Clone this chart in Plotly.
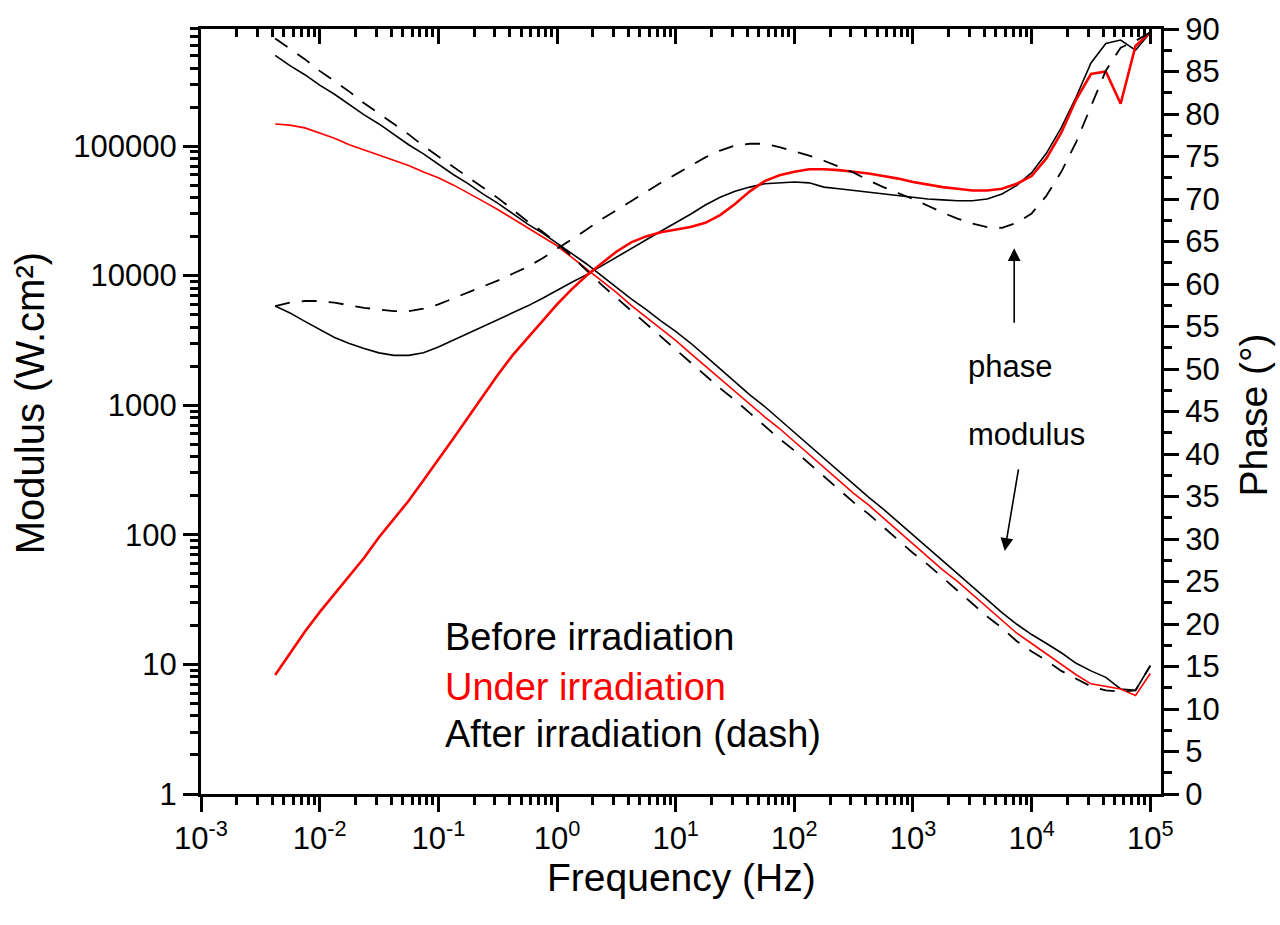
import plotly.graph_objects as go

# Frequency grid (Hz), 8 points per decade
freq = [0.004217, 0.005623, 0.007499,
        0.01, 0.01334, 0.01778, 0.02371, 0.03162, 0.04217, 0.05623, 0.07499,
        0.1, 0.1334, 0.1778, 0.2371, 0.3162, 0.4217, 0.5623, 0.7499,
        1, 1.334, 1.778, 2.371, 3.162, 4.217, 5.623, 7.499,
        10, 13.34, 17.78, 23.71, 31.62, 42.17, 56.23, 74.99,
        100, 133.4, 177.8, 237.1, 316.2, 421.7, 562.3, 749.9,
        1000, 1334, 1778, 2371, 3162, 4217, 5623, 7499,
        10000, 13340, 17780, 23710, 31620, 42170, 56230, 74990,
        100000]

# Modulus
mod_before = [501000, 417000, 355000, 295000, 251000, 209000, 174000, 148000, 123000, 102300,
              87100, 72400, 60300, 51300, 42700, 36300, 30200, 25100, 21400, 17800,
              14800, 12300, 10000, 8130, 6610, 5500, 4470, 3720,
              3020, 2400, 1905, 1514, 1202, 977, 776, 617,
              490, 389, 309, 245, 195, 158, 126, 100,
              79.4, 63.1, 50.1, 39.8, 31.6, 25.1, 20.4, 17.0,
              14.5, 12.3, 10.2, 8.91, 7.94, 6.46, 6.31, 9.77]
mod_under = [148000, 145000, 138000, 126000, 115000, 102300, 93300, 85100, 77600, 70800,
             63100, 56900, 50100, 43700, 37600, 32400, 27500, 23400, 20000, 17000,
             13800, 11200, 9120, 7410, 5890, 4790, 3890, 3160,
             2510, 2000, 1620, 1290, 1023, 813, 661, 525,
             417, 331, 263, 209, 170, 135, 107, 85.1,
             67.6, 53.7, 43.7, 34.7, 27.5, 21.9, 17.4, 14.5,
             12.0, 10.0, 8.32, 7.08, 6.76, 6.46, 5.75, 8.51]
mod_after = [676000, 562000, 468000, 380000, 316000, 263000, 214000, 178000, 148000, 123000,
             100000, 83200, 69200, 57500, 47900, 39800, 32400, 26300, 21900, 17800,
             14100, 11000, 8510, 6760, 5370, 4270, 3390, 2690,
             2140, 1700, 1350, 1096, 871, 692, 550, 447,
             355, 282, 224, 178, 145, 115, 91.2, 72.4,
             58.9, 46.8, 37.2, 29.5, 23.4, 19.1, 15.1, 12.6,
             10.7, 8.91, 7.76, 6.76, 6.31, 6.17, 6.31, 9.77]

# Phase (degrees)
ph_before = [57.4, 56.6, 55.6, 54.6, 53.7, 53.0, 52.4, 51.9, 51.6, 51.6,
             51.9, 52.6, 53.4, 54.2, 55.0, 55.8, 56.6, 57.4, 58.3, 59.3,
             60.2, 61.1, 62.1, 63.1, 64.1, 65.2, 66.2, 67.2,
             68.2, 69.3, 70.2, 70.9, 71.4, 71.8, 71.9, 72.0,
             71.9, 71.4, 71.2, 71.0, 70.8, 70.6, 70.4, 70.2,
             70.0, 69.9, 69.8, 69.8, 70.0, 70.6, 71.6, 73.1,
             75.4, 78.4, 82.0, 86.0, 88.3, 88.7, 87.5, 89.6]
ph_under = [14.0, 16.5, 19.1, 21.4, 23.5, 25.6, 27.8, 30.2, 32.4, 34.5,
            36.9, 39.3, 41.8, 44.3, 46.8, 49.3, 51.6, 53.6, 55.6, 57.6,
            59.4, 61.0, 62.4, 63.8, 64.9, 65.6, 66.1, 66.4,
            66.7, 67.2, 68.1, 69.4, 70.9, 72.1, 72.8, 73.2,
            73.5, 73.5, 73.4, 73.2, 73.0, 72.7, 72.4, 72.0,
            71.7, 71.4, 71.2, 71.0, 71.0, 71.2, 71.8, 72.7,
            74.8, 77.8, 81.7, 84.7, 85.0, 81.2, 88.0, 89.6]
ph_after = [57.4, 57.8, 58.0, 58.0, 57.8, 57.5, 57.2, 57.0, 56.8, 56.8,
            57.1, 57.6, 58.3, 59.0, 59.7, 60.4, 61.2, 62.0, 63.0, 64.1,
            65.3, 66.4, 67.6, 68.7, 69.8, 70.8, 71.9, 72.9,
            73.9, 74.9, 75.7, 76.3, 76.5, 76.5, 76.1, 75.6,
            75.1, 74.5, 73.8, 73.1, 72.2, 71.4, 70.7, 70.0,
            69.2, 68.4, 67.7, 67.1, 66.7, 66.6, 67.2, 68.3,
            70.4, 73.2, 76.7, 81.0, 85.1, 87.8, 88.6, 89.6]

x_tickvals = [1e-3, 1e-2, 1e-1, 1, 10, 100, 1e3, 1e4, 1e5]
x_ticktext = ["10<sup>-3</sup>", "10<sup>-2</sup>", "10<sup>-1</sup>", "10<sup>0</sup>",
              "10<sup>1</sup>", "10<sup>2</sup>", "10<sup>3</sup>", "10<sup>4</sup>",
              "10<sup>5</sup>"]
y_tickvals = [1, 10, 100, 1000, 10000, 100000]
y_ticktext = ["1", "10", "100", "1000", "10000", "100000"]
ph_tickvals = list(range(0, 91, 5))

FONT = "Liberation Sans, Arial, sans-serif"

x_minor = [m * 10.0 ** k for k in range(-3, 5) for m in range(2, 10)]
y_minor = [m * 10.0 ** k for k in range(0, 6) for m in range(2, 10)]
ph_minor = [v + 2.5 for v in range(0, 90, 5)]

fig = go.Figure()

# Modulus traces
fig.add_trace(go.Scatter(x=freq, y=mod_before, mode="lines",
                         line=dict(color="black", width=1.6), xaxis="x", yaxis="y"))
fig.add_trace(go.Scatter(x=freq, y=mod_under, mode="lines",
                         line=dict(color="#ff0000", width=1.6), xaxis="x", yaxis="y"))
fig.add_trace(go.Scatter(x=freq, y=mod_after, mode="lines",
                         line=dict(color="black", width=1.8, dash="15px,12px"), xaxis="x", yaxis="y"))
# Phase traces
fig.add_trace(go.Scatter(x=freq, y=ph_before, mode="lines",
                         line=dict(color="black", width=1.6), xaxis="x", yaxis="y2"))
fig.add_trace(go.Scatter(x=freq, y=ph_under, mode="lines",
                         line=dict(color="#ff0000", width=2.6), xaxis="x", yaxis="y2"))
fig.add_trace(go.Scatter(x=freq, y=ph_after, mode="lines",
                         line=dict(color="black", width=1.8, dash="15px,12px"), xaxis="x", yaxis="y2"))
# invisible helper so the top mirror axis is drawn
fig.add_trace(go.Scatter(x=[freq[0]], y=[mod_before[0]], mode="markers",
                         marker=dict(opacity=0), hoverinfo="skip", xaxis="x2", yaxis="y"))

axis_common = dict(showgrid=False, zeroline=False, showline=True, linecolor="black",
                   linewidth=3, tickcolor="black", tickwidth=2.5,
                   tickfont=dict(family=FONT, size=31, color="black"))

fig.update_layout(
    width=1280, height=925,
    margin=dict(l=201, r=119, t=23, b=131),
    paper_bgcolor="white", plot_bgcolor="white",
    showlegend=False,
    xaxis=dict(type="log", range=[-3, 5.09], tickmode="array", tickvals=x_tickvals,
               ticktext=x_ticktext, ticks="outside", ticklen=15,
               minor=dict(tickmode="array", tickvals=x_minor, ticks="outside", ticklen=8,
                          tickwidth=2.5, tickcolor="black"),
               **axis_common),
    xaxis2=dict(type="log", range=[-3, 5.09], overlaying="x", side="top", anchor="y",
                tickmode="array", tickvals=x_tickvals, showticklabels=False,
                ticks="inside", ticklen=15,
                minor=dict(tickmode="array", tickvals=x_minor, ticks="inside", ticklen=8,
                           tickwidth=2.5, tickcolor="black"),
                **axis_common),
    yaxis=dict(type="log", range=[0, 5.903], tickmode="array", tickvals=y_tickvals,
               ticktext=y_ticktext, ticks="outside", ticklen=15,
               minor=dict(tickmode="array", tickvals=y_minor, ticks="outside", ticklen=8,
                          tickwidth=2.5, tickcolor="black"),
               **axis_common),
    yaxis2=dict(range=[0, 90], overlaying="y", side="right", anchor="x",
                tickmode="array", tickvals=ph_tickvals, ticks="outside", ticklen=15,
                minor=dict(tickmode="array", tickvals=ph_minor, ticks="outside", ticklen=8,
                           tickwidth=2.5, tickcolor="black"),
                **axis_common),
)

annots = []
# axis titles
annots.append(dict(text="Frequency (Hz)", xref="paper", yref="paper", x=0.5, y=-0.109,
                   showarrow=False, font=dict(family=FONT, size=39, color="black"),
                   xanchor="center", yanchor="middle"))
annots.append(dict(text="Modulus (W.cm²)", xref="paper", yref="paper", x=-0.178, y=0.511,
                   showarrow=False, textangle=-90, font=dict(family=FONT, size=40, color="black"),
                   xanchor="center", yanchor="middle"))
annots.append(dict(text="Phase (°)", xref="paper", yref="paper", x=1.096, y=0.495,
                   showarrow=False, textangle=-90, font=dict(family=FONT, size=39, color="black"),
                   xanchor="center", yanchor="middle"))
# legend texts
for txt, col, yy in [("Before irradiation", "black", 0.205),
                     ("Under irradiation", "#ff0000", 0.140),
                     ("After irradiation (dash)", "black", 0.079)]:
    annots.append(dict(text=txt, xref="paper", yref="paper", x=0.252, y=yy, showarrow=False,
                       font=dict(family=FONT, size=38, color=col), xanchor="left", yanchor="middle"))
# phase / modulus labels
annots.append(dict(text="phase", xref="x", yref="y2", x=3.45, y=50.3, showarrow=False,
                   font=dict(family=FONT, size=31, color="black"), xanchor="left", yanchor="middle"))
annots.append(dict(text="modulus", xref="x", yref="y2", x=3.45, y=42.3, showarrow=False,
                   font=dict(family=FONT, size=31, color="black"), xanchor="left", yanchor="middle"))
# arrows
annots.append(dict(text="", xref="x", yref="y2", x=3.853, y=64.2, ax=0, ay=76,
                   showarrow=True, arrowhead=2, arrowsize=1.6, arrowwidth=1.6, arrowcolor="black"))
annots.append(dict(text="", xref="x", yref="y2", x=3.773, y=28.6, ax=14, ay=-83,
                   showarrow=True, arrowhead=2, arrowsize=1.6, arrowwidth=1.6, arrowcolor="black"))
fig.update_layout(annotations=annots)

fig.write_html("out.html")
